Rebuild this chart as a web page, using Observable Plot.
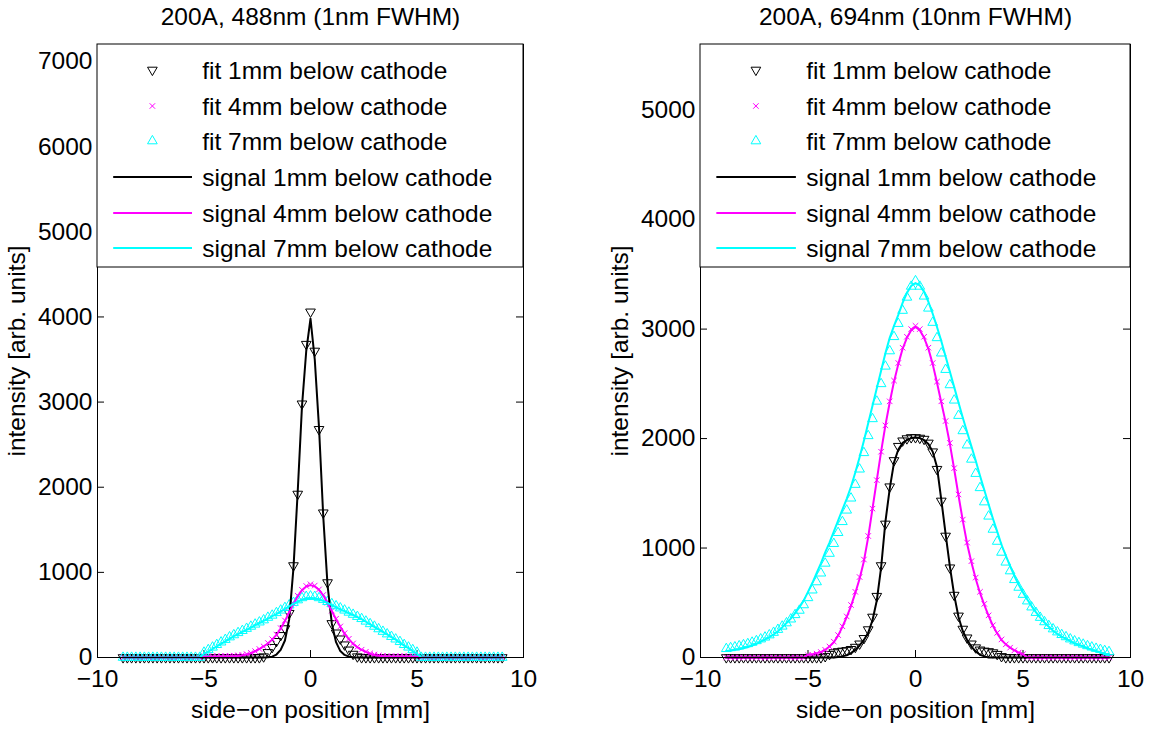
<!DOCTYPE html>
<html><head><meta charset="utf-8">
<script src="https://cdn.jsdelivr.net/npm/d3@7"></script>
<script src="https://cdn.jsdelivr.net/npm/@observablehq/plot@0.6"></script>
<style>
html,body{margin:0;padding:0;background:#fff;}
#wrap{position:relative;width:1153px;height:729px;overflow:hidden;background:#fff;}
#left{position:absolute;left:0;top:0;width:600px;height:729px;}
#right{position:absolute;left:600px;top:0;width:553px;height:729px;}
</style></head><body><div id="wrap"><div id="left"></div><div id="right"></div></div>
<script>
// sample positions (mm)
const xPos = [
-8.8,-8.6,-8.4,-8.2,-8.0,-7.8,-7.6,-7.4,-7.2,-7.0,
-6.8,-6.6,-6.4,-6.2,-6.0,-5.8,-5.6,-5.4,-5.2,-5.0,
-4.8,-4.6,-4.4,-4.2,-4.0,-3.8,-3.6,-3.4,-3.2,-3.0,
-2.8,-2.6,-2.4,-2.2,-2.0,-1.8,-1.6,-1.4,-1.2,-1.0,
-0.8,-0.6,-0.4,-0.2,0,0.2,0.4,0.6,0.8,1.0,
1.2,1.4,1.6,1.8,2.0,2.2,2.4,2.6,2.8,3.0,
3.2,3.4,3.6,3.8,4.0,4.2,4.4,4.6,4.8,5.0,
5.2,5.4,5.6,5.8,6.0,6.2,6.4,6.6,6.8,7.0,
7.2,7.4,7.6,7.8,8.0,8.2,8.4,8.6,8.8,9.0];

// ---- left panel: 488nm ----
const sig1L = [
0,0,0,0,0,0,0,0,0,0,
0,0,0,0,0,0,0,0,0,0,
0,0,0,0,0,0,0,0,0,0,
0,0,0,0,3,10,35,90,200,450,
1050,1950,2950,3600,3980,3500,2700,1650,850,400,
180,75,30,10,3,0,0,0,0,0,
0,0,0,0,0,0,0,0,0,0,
0,0,0,0,0,0,0,0,0,0,
0,0,0,0,0,0,0,0,0,0];
const fit1L = [
0,0,0,0,0,0,0,0,0,0,
0,0,0,0,0,0,0,0,0,0,
0,0,0,0,0,0,0,0,0,0,
0,0,0,10,60,120,190,260,340,520,
1080,1920,2980,3680,4060,3600,2680,1700,880,400,
290,220,150,90,40,10,0,0,0,0,
0,0,0,0,0,0,0,0,0,0,
0,0,0,0,0,0,0,0,0,0,
0,0,0,0,0,0,0,0,0,0];
const sig4L = [
0,0,0,0,0,0,0,0,0,0,
0,0,0,0,0,0,0,0,0,8,
10,10,10,10,12,12,15,18,25,35,
50,72,100,130,165,210,265,340,430,530,
630,720,790,835,850,835,795,730,640,545,
450,360,280,215,160,120,90,65,45,30,
20,15,12,10,10,10,10,10,10,8,
0,0,0,0,0,0,0,0,0,0,
0,0,0,0,0,0,0,0,0,0];
const fit4L = [
0,0,0,0,0,0,0,0,0,0,
0,0,0,0,0,0,0,0,0,15,
15,15,15,15,18,20,22,25,30,40,
55,75,100,130,170,215,270,345,435,535,
635,725,795,840,860,845,800,735,645,550,
455,365,285,220,165,125,92,68,48,35,
25,20,15,15,15,15,15,15,15,15,
0,0,0,0,0,0,0,0,0,0,
0,0,0,0,0,0,0,0,0,0];
const sig7L = [
0,0,0,0,0,0,0,0,0,0,
0,0,0,0,0,0,0,0,0,45,
70,100,130,160,190,220,250,275,300,325,
350,380,405,430,455,485,510,540,570,600,
630,655,680,695,700,695,685,665,640,615,
590,565,545,520,500,475,450,420,390,360,
330,300,270,240,210,175,140,110,75,45,
0,0,0,0,0,0,0,0,0,0,
0,0,0,0,0,0,0,0,0,0];
const fit7L = [
0,0,0,0,0,0,0,0,0,0,
0,0,0,0,0,0,0,0,0,60,
90,120,150,180,210,240,265,290,315,340,
365,390,415,440,470,495,525,555,585,615,
645,675,700,715,720,715,700,680,655,630,
605,580,555,530,505,480,455,425,395,365,
335,305,275,245,215,185,150,120,90,60,
0,0,0,0,0,0,0,0,0,0,
0,0,0,0,0,0,0,0,0,0];

// ---- right panel: 694nm ----
const sig1R = [
0,0,0,0,0,0,0,0,0,0,
0,0,0,0,0,0,0,0,0,0,
0,0,0,0,0,0,5,10,20,40,
70,110,160,225,340,520,820,1240,1540,1780,
1900,1960,1985,2005,2010,2005,1985,1950,1880,1740,
1440,1130,830,570,370,240,160,100,55,25,
10,0,0,0,0,0,0,0,0,0,
0,0,0,0,0,0,0,0,0,0,
0,0,0,0,0,0,0,0,0,0];
const fit1R = [
0,0,0,0,0,0,0,0,0,0,
0,0,0,0,0,0,0,0,0,0,
0,0,0,10,30,45,55,60,65,75,
95,125,175,255,370,560,840,1220,1560,1800,
1930,1980,2000,2010,2010,2005,1995,1960,1880,1720,
1430,1110,820,570,380,260,180,125,90,70,
60,55,45,30,10,0,0,0,0,0,
0,0,0,0,0,0,0,0,0,0,
0,0,0,0,0,0,0,0,0,0];
const sig4R = [
0,0,0,0,0,0,0,0,0,0,
0,0,0,0,0,0,0,0,0,25,
30,40,50,70,100,140,200,280,370,470,
590,720,880,1100,1360,1620,1880,2120,2330,2520,
2680,2820,2920,2990,3020,2990,2920,2820,2680,2510,
2330,2150,1950,1720,1480,1250,1040,870,720,590,
480,380,290,220,160,120,90,65,45,30,
0,0,0,0,0,0,0,0,0,0,
0,0,0,0,0,0,0,0,0,0];
const fit4R = [
0,0,0,0,0,0,0,0,0,0,
0,0,0,0,0,0,0,0,0,20,
25,35,50,70,100,145,205,285,375,480,
600,735,895,1110,1360,1620,1880,2120,2340,2530,
2690,2830,2930,3000,3030,3000,2930,2830,2690,2520,
2340,2160,1960,1730,1490,1260,1050,880,730,600,
490,385,295,225,165,120,90,65,45,30,
0,0,0,0,0,0,0,0,0,0,
0,0,0,0,0,0,0,0,0,0];
const sig7R = [
60,65,70,75,85,95,110,125,145,165,
185,210,240,275,315,355,405,460,520,600,
680,770,860,960,1050,1150,1250,1350,1450,1560,
1690,1830,1980,2140,2300,2460,2620,2780,2920,3030,
3130,3240,3330,3395,3420,3400,3340,3250,3140,3020,
2890,2750,2610,2470,2330,2190,2060,1930,1800,1660,
1530,1400,1270,1150,1030,930,835,745,665,595,
530,470,415,365,320,280,245,215,190,170,
150,130,115,100,85,70,60,45,30,20];
const fit7R = [
80,88,95,105,115,125,138,152,168,185,
205,228,255,285,315,350,390,430,480,545,
615,690,770,860,950,1040,1140,1240,1345,1455,
1580,1720,1870,2025,2180,2340,2500,2660,2800,2930,
3050,3170,3290,3390,3440,3390,3300,3190,3060,2920,
2780,2630,2490,2350,2210,2070,1940,1810,1680,1550,
1420,1290,1170,1060,960,870,790,710,640,575,
515,460,410,365,325,290,260,232,208,188,
168,150,134,120,106,94,82,72,62,52];

// ticks and texts
const xTicks = [-10, -5, 0, 5, 10];
const yTicksL = [0, 1000, 2000, 3000, 4000, 5000, 6000, 7000];
const yTicksR = [0, 1000, 2000, 3000, 4000, 5000];
const titleL = "200A, 488nm (1nm FWHM)";
const titleR = "200A, 694nm (10nm FWHM)";
const xLabel = "side\u2212on position [mm]";
const yLabel = "intensity [arb. units]";
const legendLabels = ["fit 1mm below cathode","fit 4mm below cathode","fit 7mm below cathode",
  "signal 1mm below cathode","signal 4mm below cathode","signal 7mm below cathode"];
const colors = ["#000000", "#ff00ff", "#00ffff"];

const all = {sig1L, fit1L, sig4L, fit4L, sig7L, fit7L, sig1R, fit1R, sig4R, fit4R, sig7R, fit7R};
for (const [k, v] of Object.entries(all)) if (v.length !== xPos.length) throw new Error(k + " has length " + v.length);

const FONT = "'Liberation Sans', Arial, Helvetica, sans-serif";
const FS = 24.5;
const triDown = {draw(ctx, size) {
  const h = Math.sqrt(size / (3 * Math.sqrt(3))); const s = Math.sqrt(3) * h;
  ctx.moveTo(0, 2 * h); ctx.lineTo(s, -h); ctx.lineTo(-s, -h); ctx.closePath();
}};
const symbols = [triDown, d3.symbolTimes, d3.symbolTriangle];
const symR = [3.6, 2.6, 3.6];

const rows = (arr) => xPos.map((x, i) => ({x, y: arr[i]}));

function panel(el, cfg) {
  const {width, mL, mR, mT, mB, yMax, yTicks, title, fits, sigs} = cfg;
  const height = 729;
  const fW = width - mL - mR, fH = height - mT - mB;
  const marks = [
    Plot.tickX(xTicks, {x: d => d, insetTop: fH - 7, stroke: "black"}),
    Plot.tickY(yTicks, {y: d => d, insetRight: fW - 7, stroke: "black"}),
    Plot.tickY(yTicks, {y: d => d, insetLeft: fW - 7, stroke: "black"}),
    Plot.axisX(xTicks, {tickSize: 0, tickPadding: 12, label: null, fontSize: FS}),
    Plot.axisY(yTicks, {tickSize: 0, tickPadding: 5, label: null, tickFormat: "d", fontSize: FS}),
    Plot.text([title], {frameAnchor: "top", dy: -27, lineAnchor: "middle", textAnchor: "middle", text: d => d, fontSize: FS}),
    Plot.text([xLabel], {frameAnchor: "bottom", dy: 53, lineAnchor: "middle", textAnchor: "middle", text: d => d, fontSize: FS}),
    Plot.text([yLabel], {frameAnchor: "left", dx: -80, rotate: -90, lineAnchor: "middle", textAnchor: "middle", text: d => d, fontSize: FS}),
  ];
  fits.forEach((f, i) => marks.push(Plot.dot(rows(f), {x: "x", y: "y", symbol: symbols[i], r: symR[i],
    stroke: colors[i], fill: "none", strokeWidth: 1})));
  sigs.forEach((s, i) => marks.push(Plot.line(rows(s), {x: "x", y: "y", stroke: colors[i], strokeWidth: 2})));
  marks.push(Plot.frame({stroke: "black", strokeWidth: 1}));
  const svg = Plot.plot({
    width, height, marginLeft: mL, marginRight: mR, marginTop: mT, marginBottom: mB,
    style: {fontFamily: FONT, fontSize: FS + "px", color: "black", background: "white", overflow: "visible"},
    x: {domain: [-10, 10]},
    y: {domain: [0, yMax]},
    marks
  });
  // legend box (drawn over the top part of the axes, as in the original)
  const g = d3.select(svg).append("g").attr("text-anchor", "start");
  const LH = 223;
  g.append("rect").attr("x", mL).attr("y", mT).attr("width", fW).attr("height", LH)
    .attr("fill", "white").attr("stroke", "black").attr("stroke-width", 1);
  const rowY = [26, 62, 97, 133, 169, 204];
  legendLabels.forEach((lab, i) => {
    const cy = mT + rowY[i];
    const c = colors[i % 3];
    if (i < 3) {
      const r = symR[i];
      g.append("path").attr("d", d3.symbol(symbols[i], Math.PI * r * r)())
        .attr("transform", `translate(${mL + 0.13 * fW},${cy})`)
        .attr("fill", "none").attr("stroke", c).attr("stroke-width", 1);
    } else {
      g.append("line").attr("x1", mL + 0.038 * fW).attr("x2", mL + 0.223 * fW)
        .attr("y1", cy).attr("y2", cy).attr("stroke", c).attr("stroke-width", 2);
    }
    g.append("text").attr("x", mL + 0.247 * fW).attr("y", cy).attr("dy", "0.35em")
      .attr("text-anchor", "start")
      .attr("font-family", FONT).attr("font-size", FS).attr("fill", "black").text(lab);
  });
  document.getElementById(el).appendChild(svg);
}

panel("left", {width: 600, mL: 97, mR: 77, mT: 44, mB: 72, yMax: 7200, yTicks: yTicksL, title: titleL,
  fits: [fit1L, fit4L, fit7L], sigs: [sig1L, sig4L, sig7L]});
panel("right", {width: 553, mL: 100, mR: 23, mT: 44, mB: 72, yMax: 5600, yTicks: yTicksR, title: titleR,
  fits: [fit1R, fit4R, fit7R], sigs: [sig1R, sig4R, sig7R]});
</script></body></html>
